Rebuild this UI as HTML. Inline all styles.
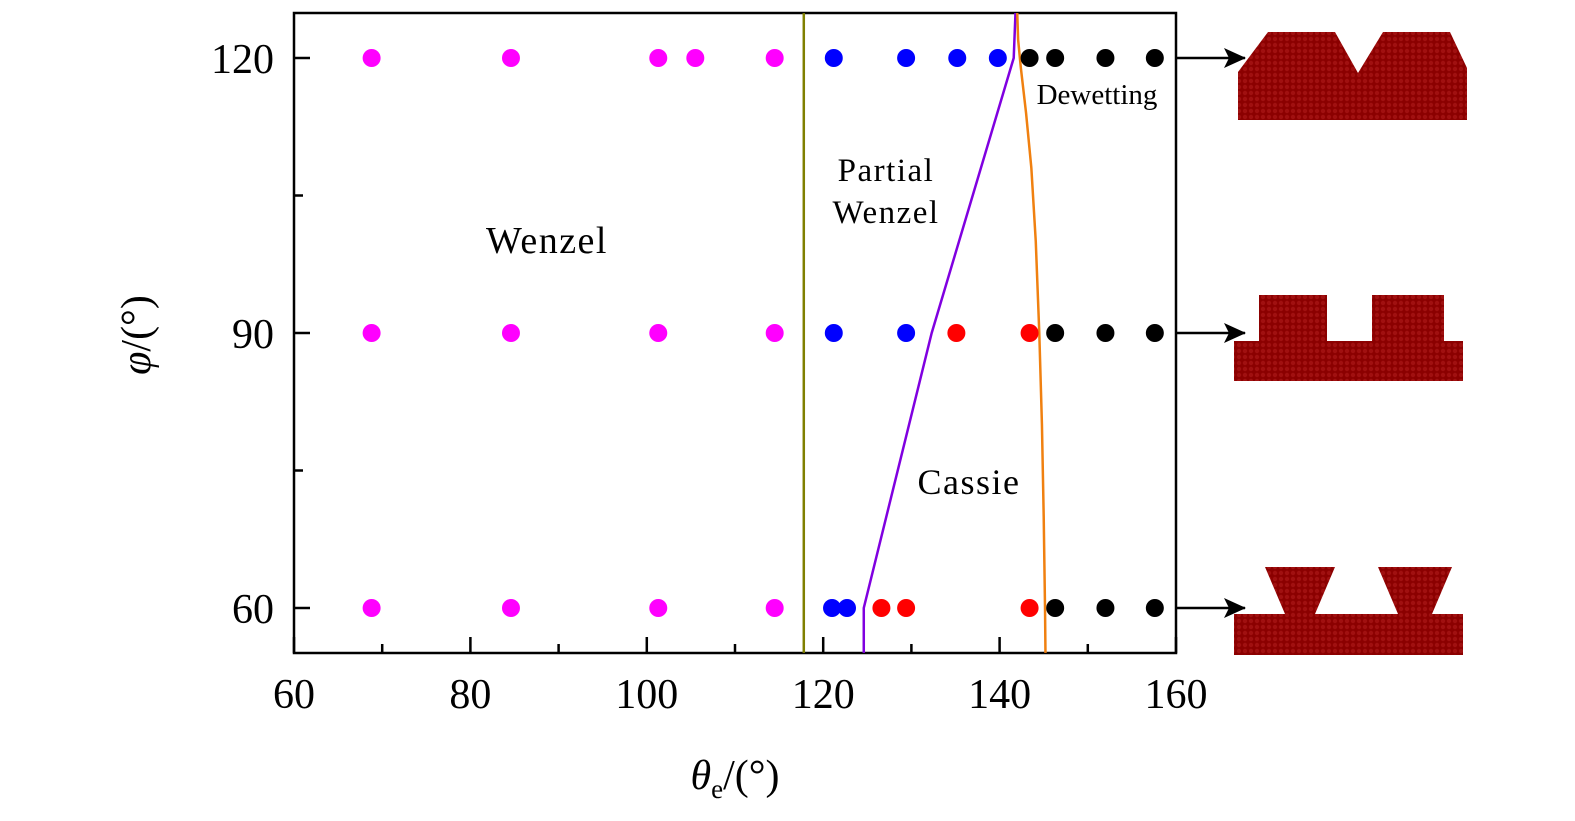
<!DOCTYPE html>
<html><head><meta charset="utf-8"><style>
html,body{margin:0;padding:0;background:#fff;width:1575px;height:821px;overflow:hidden}
svg{display:block;font-family:"Liberation Serif",serif}
</style></head><body>
<svg id="c" width="1575" height="821">
<defs>
<pattern id="atoms" width="6" height="6" patternUnits="userSpaceOnUse"><rect width="6" height="6" fill="#8b0000"/><circle cx="3" cy="3" r="2.2" fill="#a01010"/></pattern>
<marker id="ah" markerWidth="22" markerHeight="20" refX="21" refY="10" orient="auto" markerUnits="userSpaceOnUse"><path d="M0,0 L22,10 L0,20 L5,10 z" fill="#000"/></marker>
</defs>
<g id="plot"></g>
</svg>
<script>
const xTicks=[60,80,100,120,140,160];
const yTicks=[60,90,120];
const magentaX=[68.8,84.6,101.3,105.5,114.5, 68.8,84.6,101.3,114.5, 68.8,84.6,101.3,114.5];
const magentaY=[120,120,120,120,120, 90,90,90,90, 60,60,60,60];
const blueX=[121.2,129.4,135.2,139.8, 121.2,129.4, 121.0,122.7];
const blueY=[120,120,120,120, 90,90, 60,60];
const redX=[135.1,143.4, 126.6,129.4,143.4];
const redY=[90,90, 60,60,60];
const blackX=[143.4,146.3,152.0,157.6, 146.3,152.0,157.6, 146.3,152.0,157.6];
const blackY=[120,120,120,120, 90,90,90, 60,60,60];
const olive=[[117.8,55.1],[117.8,124.9]];
const purple=[[124.6,55.1],[124.6,60],[132.3,90],[141.6,120],[141.8,124.9]];
const orange=[[145.2,55.1],[145.15,60],[145.0,70],[144.8,80],[144.5,90],[144.1,100],[143.6,108],[143.0,114],[142.4,119],[142.1,122],[142.0,124.9]];
const X=v=>294+(v-60)*8.82, Y=v=>608-(v-60)*9.1667;
const g=document.getElementById('plot'),NS='http://www.w3.org/2000/svg';
function mk(t,a,p){const e=document.createElementNS(NS,t);for(const k in a)e.setAttribute(k,a[k]);(p||g).appendChild(e);return e;}
let fr=mk('rect',{x:294,y:13,width:882,height:640,fill:'none',stroke:'#000','stroke-width':2.5});


for(let v=60;v<=160;v+=10){const maj=v%20==0;let t=mk('line',{x1:X(v),x2:X(v),y1:653,y2:653-(maj?16:9),stroke:'#000','stroke-width':2.5});

}
xTicks.forEach(v=>{let t=mk('text',{x:X(v),y:708,'font-size':42,'text-anchor':'middle'});t.textContent=v;

});
for(let v=60;v<=120;v+=15){const maj=v%30==0;let t=mk('line',{x1:294,x2:294+(maj?16:9),y1:Y(v),y2:Y(v),stroke:'#000','stroke-width':2.5});

}
yTicks.forEach(v=>{let t=mk('text',{x:274,y:Y(v)+15,'font-size':42,'text-anchor':'end'});t.textContent=v;

});
function line(pts,col,name){let p=mk('polyline',{points:pts.map(q=>X(q[0])+','+Y(q[1])).join(' '),fill:'none',stroke:col,'stroke-width':2.5});

}
line(olive,'#808000','wenzel-boundary');
line(purple,'#8000e0','cassie-boundary');
line(orange,'#f08010','dewetting-boundary');
function pts(xs,ys,col,name){xs.forEach((x,i)=>{let c=mk('circle',{cx:X(x),cy:Y(ys[i]),r:9,fill:col});

});}
pts(magentaX,magentaY,'#ff00ff','wenzel-point');
pts(blueX,blueY,'#0000ff','partial-wenzel-point');
pts(redX,redY,'#ff0000','cassie-point');
pts(blackX,blackY,'#000000','dewetting-point');
function txt(x,y,s,fs,name,extra){let t=mk('text',Object.assign({x:x,y:y,'font-size':fs,'text-anchor':'middle'},extra||{}));t.textContent=s;

return t;}
txt(547,253,'Wenzel',38,'wenzel-label',{'letter-spacing':'1.5'});
txt(886,181,'Partial',33,'partial-label',{'letter-spacing':'1.5'});
txt(886,223,'Wenzel',33,'partial-wenzel-label',{'letter-spacing':'1.5'});
txt(969,494,'Cassie',36,'cassie-label',{'letter-spacing':'1.5'});
txt(1097,104,'Dewetting',29,'dewetting-label');
let xt=txt(735,789,'',42,'x-axis-title');
xt.innerHTML='<tspan font-style="italic">θ</tspan><tspan font-size="27" dy="9">e</tspan><tspan dy="-9">/(°)</tspan>';
let yt=txt(0,0,'',42,'y-axis-title',{transform:'translate(150,335) rotate(-90)'});
yt.innerHTML='<tspan font-style="italic">φ</tspan>/(°)';
[58,333,608].forEach(y=>{let a=mk('line',{x1:1176,x2:1245,y1:y,y2:y,stroke:'#000','stroke-width':2.5,'marker-end':'url(#ah)'});

});
function shape(d,name){let p=mk('path',{d:d,fill:'url(#atoms)'});

}
shape('M1238,120 L1238,72 L1268,32 L1335,32 L1358,73 L1383,32 L1450,32 L1467,68 L1467,120 Z','v-groove-surface');
shape('M1234,381 L1234,341 L1259,341 L1259,295 L1327,295 L1327,341 L1372,341 L1372,295 L1444,295 L1444,341 L1463,341 L1463,381 Z','square-pillar-surface');
shape('M1234,655 L1234,614 L1285,614 L1265,567 L1335,567 L1315,614 L1398,614 L1378,567 L1452,567 L1432,614 L1463,614 L1463,655 Z','inverted-trapezoid-surface');
</script>
</body></html>
